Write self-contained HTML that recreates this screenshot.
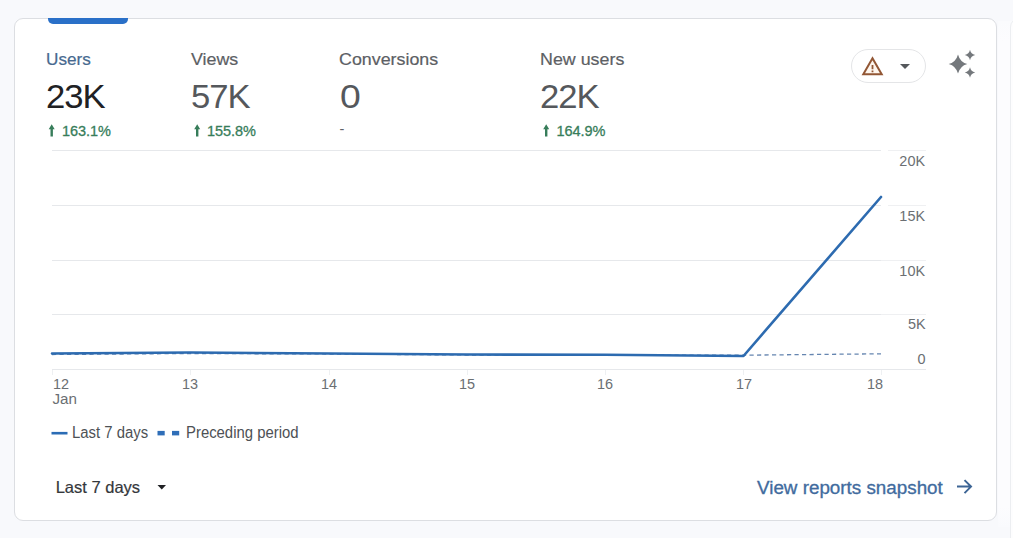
<!DOCTYPE html>
<html><head><meta charset="utf-8">
<style>
html,body{margin:0;padding:0;}
body{width:1013px;height:538px;background:#f8f9fc;position:relative;overflow:hidden;font-family:"Liberation Sans",sans-serif;color:#5f6368;}
.card{position:absolute;left:14px;top:18px;width:983px;height:503px;background:#fff;border:1px solid #dcdee2;border-radius:9px;box-sizing:border-box;}
.strip{position:absolute;left:998px;top:21px;width:15px;height:506px;background:linear-gradient(to bottom,#fafbfd 0,#fcfcfe 4%,#fcfcfe 96%,#f9fafd 100%);}
.card2{position:absolute;left:1010px;top:18px;width:40px;height:540px;background:#fdfdfe;border:1px solid #eceef1;border-radius:9px;box-sizing:border-box;}
.tab{position:absolute;left:48px;top:18.300px;width:80px;height:5.500px;background:#2a70c8;border-radius:0 0 5px 5px;}
.t{position:absolute;white-space:nowrap;line-height:1;transform-origin:0 50%;}
.r{transform-origin:100% 50%;text-align:right;}
.lbl{font-size:17px;color:#5c6064;transform:scaleX(1.05);-webkit-text-stroke:0.2px currentColor;}
.big{font-size:34px;color:#55585c;letter-spacing:-1px;transform:scaleX(1.02);}
.pct{font-size:14.5px;color:#377d5a;letter-spacing:-0.05px;-webkit-text-stroke:0.3px #377d5a;}
.ax{font-size:15.2px;color:#6b6f73;transform:scaleX(0.95);}
.lg{font-size:16px;color:#4d5155;transform:scaleX(0.93);}
</style></head><body>
<div class="card"></div>
<div class="strip"></div>
<div class="card2"></div>
<div class="tab"></div>

<div class="t lbl" style="left:46px;top:50.700px;color:#47698f;transform:scaleX(1.01);">Users</div>
<div class="t lbl" style="left:191px;top:50.700px;">Views</div>
<div class="t lbl" style="left:339px;top:50.700px;">Conversions</div>
<div class="t lbl" style="left:540px;top:50.700px;">New users</div>

<div class="t big" style="left:46px;top:79px;color:#202124;">23K</div>
<div class="t big" style="left:191px;top:79px;">57K</div>
<div class="t big" style="left:339.500px;top:79px;transform:scaleX(1.1);">0</div>
<div class="t big" style="left:540px;top:79px;">22K</div>

<div class="t pct" style="left:62px;top:124px;">163.1%</div>
<div class="t pct" style="left:207px;top:124px;">155.8%</div>
<div class="t pct" style="left:339.500px;top:122px;color:#5f6368;-webkit-text-stroke:0;">-</div>
<div class="t pct" style="left:556.500px;top:124px;">164.9%</div>

<svg style="position:absolute;left:0;top:0" width="1013" height="538" viewBox="0 0 1013 538">
  <!-- arrows -->
  <g fill="#377d5a">
    <path id="ar" d="M48.7 129.200 L51.700 124.300 L54.700 129.200 L52.900 129.200 L52.900 136.500 L50.500 136.500 L50.500 129.200 Z"/>
    <use href="#ar" x="145.500"/>
    <use href="#ar" x="494.500"/>
  </g>
  <!-- grid -->
  <g stroke="#e6e8eb" stroke-width="1">
    <line x1="52" x2="881" y1="150.500" y2="150.500"/>
    <line x1="52" x2="881" y1="205.500" y2="205.500"/>
    <line x1="52" x2="881" y1="260.500" y2="260.500"/>
    <line x1="52" x2="881" y1="314.500" y2="314.500"/>
    <line x1="52" x2="926" y1="369.500" y2="369.500"/>
  </g>
  <g stroke="#eff0f2" stroke-width="1">
    <line x1="888" x2="926" y1="150.500" y2="150.500"/>
    <line x1="888" x2="926" y1="205.500" y2="205.500"/>
    <line x1="881" x2="926" y1="260.500" y2="260.500"/>
    <line x1="881" x2="926" y1="314.500" y2="314.500"/>
  </g>
  <g stroke="#eef0f2" stroke-width="1"><path d="M52.500 370V375M190.500 370V375M329.500 370V375M467.500 370V375M605.500 370V375M743.500 370V375M881.500 370V375"/></g>
  <!-- dashed preceding -->
  <polyline fill="none" stroke="#6585b0" stroke-width="1.3" stroke-dasharray="4.2 3.300" points="52,354.500 190,353.500 329,354 467,355 605,355 743,355.200 881,353.800"/>
  <!-- main -->
  <polyline fill="none" stroke="#2d6bb0" stroke-width="2.6" stroke-linejoin="round" stroke-linecap="round" points="52,353.500 190,352.500 329,353.500 467,354.500 605,354.800 743.500,356 881,197"/>
  <!-- legend -->
  <line x1="51.500" x2="67.500" y1="433.200" y2="433.200" stroke="#2b6cb5" stroke-width="2.6"/>
  <rect x="157.500" y="430.900" width="7.200" height="4.500" fill="#2f6eb8"/>
  <rect x="172" y="430.900" width="7.200" height="4.500" fill="#2f6eb8"/>
  <!-- dropdown triangle -->
  <path d="M157.500 485 L166 485 L161.750 489.500 Z" fill="#202124"/>
  <!-- arrow right -->
  <path d="M957 486.600 H971 M964.500 480.100 L971 486.600 L964.500 493.100" fill="none" stroke="#3d6595" stroke-width="2"/>
  <!-- warning pill -->
  <rect x="851.500" y="49.500" width="74" height="33" rx="16.500" fill="#fff" stroke="#e4e5e7"/>
  <path d="M872.500 58.200 L881.700 74.200 L863.300 74.200 Z" fill="#fef6ee" stroke="#925735" stroke-width="2" stroke-linejoin="miter"/>
  <path d="M872.500 65 V69.300 M872.500 70.600 V72.300" stroke="#925735" stroke-width="1.8"/>
  <path d="M900 64 L910 64 L905 69 Z" fill="#55585c"/>
  <!-- sparkle -->
  <g fill="#74787c">
    <path d="M958 54.4 Q960.0 62.0 967.3 64 Q960.0 66.0 958 73.6 Q956.0 66.0 948.7 64 Q956.0 62.0 958 54.4 Z"/>
    <path d="M970 49.8 Q970.9 54.1 975.2 55 Q970.9 55.9 970 60.2 Q969.1 55.9 964.8 55 Q969.1 54.1 970 49.8 Z"/>
    <path d="M970 67.3 Q970.9 71.6 975.2 72.5 Q970.9 73.4 970 77.7 Q969.1 73.4 964.8 72.5 Q969.1 71.6 970 67.3 Z"/>
  </g>
</svg>

<div class="t ax r" style="right:87.500px;top:153px;">20K</div>
<div class="t ax r" style="right:87.500px;top:208px;">15K</div>
<div class="t ax r" style="right:87.500px;top:263px;">10K</div>
<div class="t ax r" style="right:87.500px;top:316px;">5K</div>
<div class="t ax r" style="right:87.500px;top:351px;">0</div>

<div class="t ax" style="left:52.500px;top:375.500px;">12</div>
<div class="t ax" style="left:52.500px;top:390.500px;transform:scaleX(1.0);">Jan</div>
<div class="t ax" style="left:182px;top:375.500px;">13</div>
<div class="t ax" style="left:321px;top:375.500px;">14</div>
<div class="t ax" style="left:459px;top:375.500px;">15</div>
<div class="t ax" style="left:597px;top:375.500px;">16</div>
<div class="t ax" style="left:736px;top:375.500px;">17</div>
<div class="t ax" style="left:866.500px;top:375.500px;">18</div>

<div class="t lg" style="left:72.300px;top:424.500px;">Last 7 days</div>
<div class="t lg" style="left:185.800px;top:424.500px;">Preceding period</div>

<div class="t" style="left:55.700px;top:479px;font-size:16.500px;color:#34373b;-webkit-text-stroke:0.2px #34373b;">Last 7 days</div>
<div class="t" style="left:757px;top:479.800px;font-size:17.500px;color:#416b9e;transform:scaleX(1.075);-webkit-text-stroke:0.3px #416b9e;">View reports snapshot</div>
</body></html>
